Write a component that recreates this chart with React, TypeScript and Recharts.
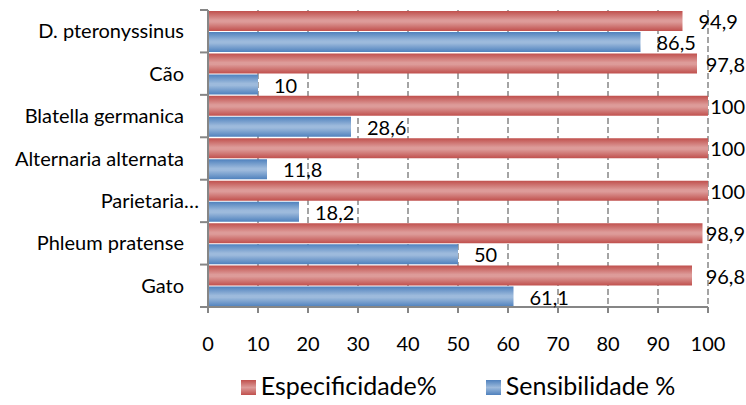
import { BarChart, Bar, XAxis, YAxis, CartesianGrid, LabelList } from "recharts";

const categories = [
  "D. pteronyssinus",
  "Cão",
  "Blatella germanica",
  "Alternaria alternata",
  "Parietaria…",
  "Phleum pratense",
  "Gato",
];
const especificidade = [94.9, 97.8, 100, 100, 100, 98.9, 96.8];
const sensibilidade = [86.5, 10, 28.6, 11.8, 18.2, 50, 61.1];
const xTicks = [0, 10, 20, 30, 40, 50, 60, 70, 80, 90, 100];

const W = 746;
const H = 405;
const FONT = "Lato, 'Liberation Sans', sans-serif";
const AXIS_GRAY = "#868686";
const Y_TICK_SIZE = 8;
const Y_TICK_MARGIN = 16;

const data = categories.map((name, i) => ({
  name,
  esp: especificidade[i],
  sens: sensibilidade[i],
}));

const fmt = (v: number) => String(v).replace(".", ",");

let ctx: CanvasRenderingContext2D | null = null;
function measure(text: string, font: string) {
  if (!ctx) ctx = document.createElement("canvas").getContext("2d");
  if (!ctx) return text.length * 10;
  ctx.font = font;
  return ctx.measureText(text).width;
}

// value label to the right of the bar, pushed back inside the svg when it would overflow
function ValueLabel(props: any) {
  const { x, y, width, height, value } = props;
  const text = fmt(value);
  const w = measure(text, `20px Lato`);
  let tx = x + width + 16;
  if (tx + w > W - 1) tx = W - 1 - w;
  return (
    <text x={tx} y={y + height / 2 + 1} dy="0.355em" fontSize={20} fontFamily={FONT} fill="#000">
      {text}
    </text>
  );
}

// category label plus Excel-style tick marks on the band boundaries;
// a truncated label keeps its word right-aligned and lets the ellipsis hang past it
function CategoryTick(props: any) {
  const { x, y, payload, index } = props;
  const axisX = x + Y_TICK_SIZE + Y_TICK_MARGIN;
  const half = payload.offset ?? 0;
  const label = String(payload.value);
  const truncated = label.endsWith("…");
  const base = truncated ? label.slice(0, -1) : label;
  const startX = x - measure(base, "20px Lato");
  return (
    <g>
      <line x1={axisX - Y_TICK_SIZE} x2={axisX} y1={y - half} y2={y - half} stroke={AXIS_GRAY} strokeWidth={2} />
      {index === categories.length - 1 && (
        <line x1={axisX - Y_TICK_SIZE} x2={axisX} y1={y + half} y2={y + half} stroke={AXIS_GRAY} strokeWidth={2} />
      )}
      <text x={startX} y={y} dy="0.355em" textAnchor="start" fontSize={20} fontFamily={FONT} fill="#000">
        {label}
      </text>
    </g>
  );
}

const legendItems = [
  { label: "Especificidade%", dark: "#C0504D", light: "#DD9B99" },
  { label: "Sensibilidade %", dark: "#4F81BD", light: "#9DBADC" },
];

export default function App() {
  return (
    <div style={{ position: "absolute", left: 0, top: 0, width: W, height: H, background: "#fff" }}>
      <BarChart
        width={W}
        height={H}
        data={data}
        layout="vertical"
        margin={{ top: 10, right: 38, bottom: 0, left: 0 }}
        barCategoryGap={1}
        barGap={1}
      >
        <defs>
          <linearGradient id="gradRed" x1="0" y1="0" x2="0" y2="1">
            <stop offset="0%" stopColor="#C0504D" />
            <stop offset="45%" stopColor="#DD9B99" />
            <stop offset="55%" stopColor="#DD9B99" />
            <stop offset="100%" stopColor="#C0504D" />
          </linearGradient>
          <linearGradient id="gradBlue" x1="0" y1="0" x2="0" y2="1">
            <stop offset="0%" stopColor="#4F81BD" />
            <stop offset="45%" stopColor="#9DBADC" />
            <stop offset="55%" stopColor="#9DBADC" />
            <stop offset="100%" stopColor="#4F81BD" />
          </linearGradient>
        </defs>
        <CartesianGrid horizontal={false} stroke={AXIS_GRAY} strokeDasharray="6 3" strokeWidth={1.5} />
        <XAxis
          type="number"
          domain={[0, 100]}
          ticks={xTicks}
          interval={0}
          height={98}
          axisLine={{ stroke: AXIS_GRAY, strokeWidth: 2 }}
          tickLine={{ stroke: AXIS_GRAY, strokeWidth: 2 }}
          tickSize={6}
          tickMargin={24}
          tick={{ fill: "#000", fontSize: 20, fontFamily: FONT }}
        />
        <YAxis
          type="category"
          dataKey="name"
          width={208}
          axisLine={{ stroke: AXIS_GRAY, strokeWidth: 2 }}
          tickLine={false}
          tickSize={Y_TICK_SIZE}
          tickMargin={Y_TICK_MARGIN}
          interval={0}
          tick={<CategoryTick />}
        />
        <Bar dataKey="esp" name="Especificidade%" fill="url(#gradRed)" isAnimationActive={false}>
          <LabelList dataKey="esp" content={<ValueLabel />} />
        </Bar>
        <Bar dataKey="sens" name="Sensibilidade %" fill="url(#gradBlue)" isAnimationActive={false}>
          <LabelList dataKey="sens" content={<ValueLabel />} />
        </Bar>
      </BarChart>
      <div
        style={{
          position: "absolute",
          top: 373,
          left: 208,
          width: 500,
          display: "flex",
          justifyContent: "center",
          alignItems: "center",
          gap: 49,
          fontFamily: FONT,
          fontSize: 25,
          lineHeight: "25px",
          color: "#000",
        }}
      >
        {legendItems.map((it) => (
          <div key={it.label} style={{ display: "flex", alignItems: "center" }}>
            <span
              style={{
                display: "inline-block",
                width: 15,
                height: 15,
                marginRight: 5,
                marginTop: 4,
                background: `linear-gradient(to bottom, ${it.dark}, ${it.light} 50%, ${it.dark})`,
              }}
            />
            <span>{it.label}</span>
          </div>
        ))}
      </div>
    </div>
  );
}
